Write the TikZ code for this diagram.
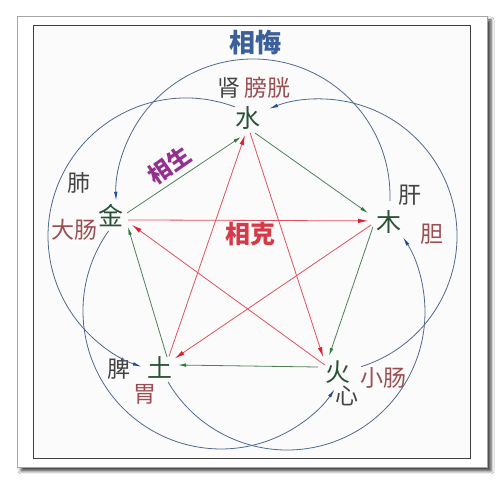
\documentclass[tikz,border=0pt]{standalone}
\usepackage{fontspec}
\newfontfamily\cjk{Noto Sans CJK SC}
\usetikzlibrary{arrows.meta,calc,shadows.blur}
\definecolor{elemc}{HTML}{2A5236}
\definecolor{zangc}{HTML}{444444}
\definecolor{fuc}{HTML}{9A4F52}
\definecolor{huic}{HTML}{3B5F99}
\definecolor{shengtxt}{HTML}{93308F}
\definecolor{ketxt}{HTML}{D63A48}
\definecolor{arcc}{HTML}{50698F}
\definecolor{arctip}{HTML}{1F4E9C}
\definecolor{greenc}{HTML}{4F8059}
\definecolor{greentip}{HTML}{2F7A3A}
\definecolor{redc}{HTML}{E0505E}
\definecolor{redtip}{HTML}{E0202E}
\definecolor{innerbg}{HTML}{FBFBFB}
\begin{document}
\begin{tikzpicture}[x=1pt,y=1pt,
  elem/.style={inner sep=0pt,text=elemc,font=\cjk\fontsize{25}{25}\selectfont},
  zang/.style={inner sep=0pt,text=zangc,font=\cjk\fontsize{23}{23}\selectfont},
  fu/.style={zang,text=fuc},
  title/.style={inner sep=0pt,font=\cjk\bfseries\fontsize{25}{25}\selectfont},
  sheng/.style={draw=greenc,line width=0.8pt,-{Latex[length=8pt,width=3.5pt,color=greentip]}},
  ke/.style={draw=redc,line width=0.8pt,-{Latex[length=10pt,width=4.5pt,color=redtip]}},
  hui/.style={draw=arcc,line width=0.8pt,-{Latex[length=9pt,width=3.5pt,color=arctip]}}]
\useasboundingbox (0,0) rectangle (504,500);
\fill[white] (0,0) rectangle (504,500);
% card with shadow
\fill[white,draw=black!35,line width=0.8pt,
  blur shadow={shadow xshift=4pt,shadow yshift=-4pt,shadow blur radius=3pt,shadow opacity=75}]
  (17,33) rectangle (487,484);
\draw[fill=innerbg,draw=black!75,line width=0.8pt] (33,42) rectangle (470,475);

% element nodes
\node[elem] (shui) at (248,382) {水};
\node[elem] (jin)  at (111,284) {金};
\node[elem] (mu)   at (389,278) {木};
\node[elem] (tu)   at (160,133) {土};
\node[elem] (huo)  at (338,128) {火};

% organ labels
\node[zang] (shen) at (229,412) {肾};
\node[fu]   (pg)   at (267,412) {膀胱};
\node[zang] (fei)  at (79,317)  {肺};
\node[fu]   (dc)   at (75,270)  {大肠};
\node[zang] (gan)  at (410,305) {肝};
\node[fu]   (dan)  at (432,266) {胆};
\node[zang] (pi)   at (119,131) {脾};
\node[fu]   (wei)  at (145,106) {胃};
\node[zang] (xin)  at (347,104) {心};
\node[fu]   (xc)   at (383,122) {小肠};

% titles
\node[title,text=huic,font=\cjk\bfseries\fontsize{26}{26}\selectfont] (xhui) at (255,457) {相悔};
\node[title,text=shengtxt,rotate=35,font=\cjk\bfseries\fontsize{23}{23}\selectfont] (xsheng) at (169.5,335) {相生};
\node[title,text=ketxt] (xke) at (250,266) {相克};

% 相生 (green)
\draw[sheng] ($(jin)+(10.6:16.3)$) -- ($(shui)+(250:20)$);
\draw[sheng] ($(shui)+(295:16.5)$) -- ($(mu)+(157:22.8)$);
\draw[sheng] ($(mu)+(197:16.8)$) -- ($(huo)+(119:18.4)$);
\draw[sheng] ($(huo)+(166:20.6)$) -- ($(tu)+(6.3:18.1)$);
\draw[sheng] ($(tu)+(55:12.2)$) -- ($(jin)+(-33:20.2)$);

% 相克 (red)
\draw[ke] ($(jin)+(-13:17.5)$) -- ($(mu)+(177:21)$);
\draw[ke] ($(mu)+(189.5:18.2)$) -- ($(tu)+(30:17)$);
\draw[ke] ($(tu)+(50:14)$) -- ($(shui)+(260:17.3)$);
\draw[ke] ($(shui)+(278:15)$) -- ($(huo)+(135:21)$);
\draw[ke] ($(huo)+(152:15)$) -- ($(jin)+(-23:22.8)$);

% 相悔 (blue arcs)
\coordinate (oT)  at (253,304);
\coordinate (oL)  at (186,264);
\coordinate (oR)  at (320,264);
\coordinate (oBR) at (287,188);
\coordinate (oBL) at (221,189);
\draw[hui] ($(oT)+(-2:137)$) arc[start angle=-2,end angle=182,radius=137];
\draw[hui] ($(oL)+(69.3:138)$) arc[start angle=69.3,end angle=251.3,radius=138];
\draw[hui] ($(oR)+(-72.5:137)$) arc[start angle=-72.5,end angle=111.8,radius=137];
\draw[hui] ($(oBR)+(210.5:138)$) arc[start angle=210.5,end angle=392.8,radius=138];
\draw[hui] ($(oBL)+(144.6:138)$) arc[start angle=144.6,end angle=325.5,radius=138];
\end{tikzpicture}
\end{document}
